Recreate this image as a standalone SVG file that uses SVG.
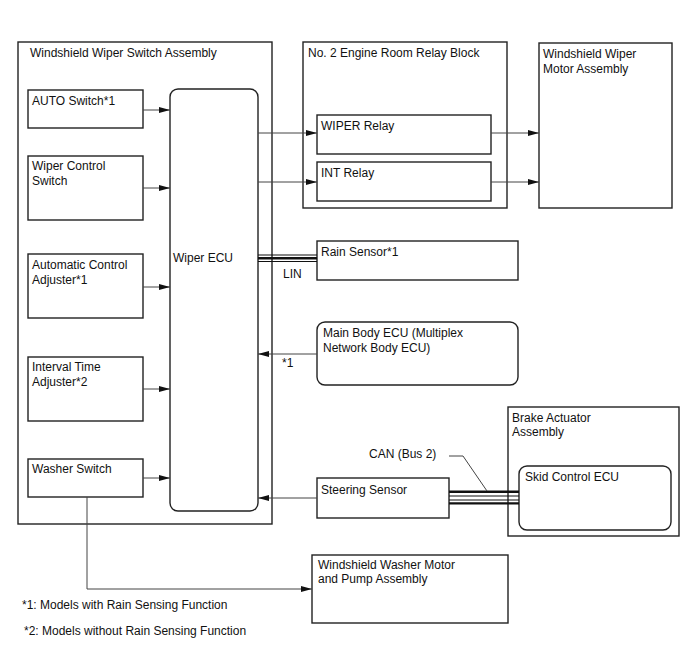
<svg xmlns="http://www.w3.org/2000/svg" width="688" height="658" viewBox="0 0 688 658">
<style>
text{font-family:"Liberation Sans",Arial,sans-serif;font-size:12px;fill:#111}
.b{fill:#fff;stroke:#222;stroke-width:1.4}
.c{fill:none;stroke:#444;stroke-width:1}
.bus{fill:none;stroke:#111}
</style>
<defs>
<marker id="ah" markerUnits="userSpaceOnUse" markerWidth="12" markerHeight="8" refX="11" refY="3" orient="auto">
<path d="M0,0 L11,3 L0,6 z" fill="#111"/>
</marker>
</defs>
<rect width="688" height="658" fill="#fff"/>
<g id="switch-assembly">
<rect class="b" x="18" y="42" width="254" height="482"/>
<text x="30" y="57">Windshield Wiper Switch Assembly</text>
</g>
<g id="auto-switch"><rect class="b" x="28" y="90" width="115" height="38"/><text x="32" y="105">AUTO Switch*1</text></g>
<g id="wiper-control-switch"><rect class="b" x="28" y="156" width="115" height="64"/><text x="32" y="170">Wiper Control</text><text x="32" y="185">Switch</text></g>
<g id="auto-control-adjuster"><rect class="b" x="28" y="254" width="115" height="64"/><text x="32" y="269">Automatic Control</text><text x="32" y="284">Adjuster*1</text></g>
<g id="interval-time-adjuster"><rect class="b" x="28" y="357" width="115" height="64"/><text x="32" y="371">Interval Time</text><text x="32" y="386">Adjuster*2</text></g>
<g id="washer-switch"><rect class="b" x="28" y="459" width="115" height="38"/><text x="32" y="473">Washer Switch</text></g>
<g id="wiper-ecu"><rect class="b" x="170" y="89" width="88" height="422" rx="8"/><text x="173" y="262">Wiper ECU</text></g>
<g id="relay-block"><rect class="b" x="303" y="42" width="204" height="166"/><text x="308" y="57">No. 2 Engine Room Relay Block</text></g>
<g id="wiper-relay"><rect class="b" x="317" y="115" width="174" height="39"/><text x="321" y="130">WIPER Relay</text></g>
<g id="int-relay"><rect class="b" x="317" y="162" width="174" height="39"/><text x="321" y="177">INT Relay</text></g>
<g id="wiper-motor"><rect class="b" x="539" y="43" width="133" height="165"/><text x="543" y="58">Windshield Wiper</text><text x="543" y="72.5">Motor Assembly</text></g>
<g id="rain-sensor"><rect class="b" x="317" y="241" width="201" height="39"/><text x="321" y="256">Rain Sensor*1</text></g>
<g id="main-body-ecu"><rect class="b" x="317" y="322" width="201" height="63" rx="8"/><text x="323" y="337">Main Body ECU (Multiplex</text><text x="323" y="351.5">Network Body ECU)</text></g>
<g id="brake-actuator"><rect class="b" x="508" y="407" width="171" height="129"/><text x="512" y="422">Brake Actuator</text><text x="512" y="436">Assembly</text></g>
<g id="skid-control-ecu"><rect class="b" x="519" y="466" width="152" height="64" rx="8"/><text x="525" y="481">Skid Control ECU</text></g>
<g id="steering-sensor"><rect class="b" x="317" y="478" width="132" height="40"/><text x="321" y="494">Steering Sensor</text></g>
<g id="washer-motor"><rect class="b" x="312" y="555" width="196" height="68"/><text x="318" y="569">Windshield Washer Motor</text><text x="318" y="583">and Pump Assembly</text></g>
<g id="connectors">
<path class="c" marker-end="url(#ah)" d="M143,110 H170"/>
<path class="c" marker-end="url(#ah)" d="M143,188 H170"/>
<path class="c" marker-end="url(#ah)" d="M143,287 H170"/>
<path class="c" marker-end="url(#ah)" d="M143,389 H170"/>
<path class="c" marker-end="url(#ah)" d="M143,478 H170"/>
<path class="c" marker-end="url(#ah)" d="M258,133 H317"/>
<path class="c" marker-end="url(#ah)" d="M258,182 H317"/>
<path class="c" marker-end="url(#ah)" d="M491,133 H539"/>
<path class="c" marker-end="url(#ah)" d="M491,182 H539"/>
<path class="c" marker-end="url(#ah)" d="M317,354 H258"/>
<path class="c" marker-end="url(#ah)" d="M317,498 H258"/>
<path class="c" marker-end="url(#ah)" d="M87,497 V589 H312"/>
<path class="bus" stroke-width="1.2" d="M258,255 H317"/>
<path class="bus" stroke-width="2.6" d="M258,258.3 H317"/>
<path class="bus" stroke-width="1.2" d="M258,261.5 H317"/>
<path class="bus" stroke-width="2.4" d="M449,491.7 H519"/>
<path class="bus" stroke-width="1.2" d="M449,496 H519"/>
<path class="bus" stroke-width="1.2" d="M449,500 H519"/>
<path class="bus" stroke-width="2.2" d="M449,503.4 H519"/>
<path class="c" d="M449,456 H463 L487,491"/>
<text x="283" y="278">LIN</text>
<text x="282" y="367">*1</text>
<text x="369" y="458">CAN (Bus 2)</text>
</g>
<text x="22" y="609">*1: Models with Rain Sensing Function</text>
<text x="24" y="635">*2: Models without Rain Sensing Function</text>
</svg>
